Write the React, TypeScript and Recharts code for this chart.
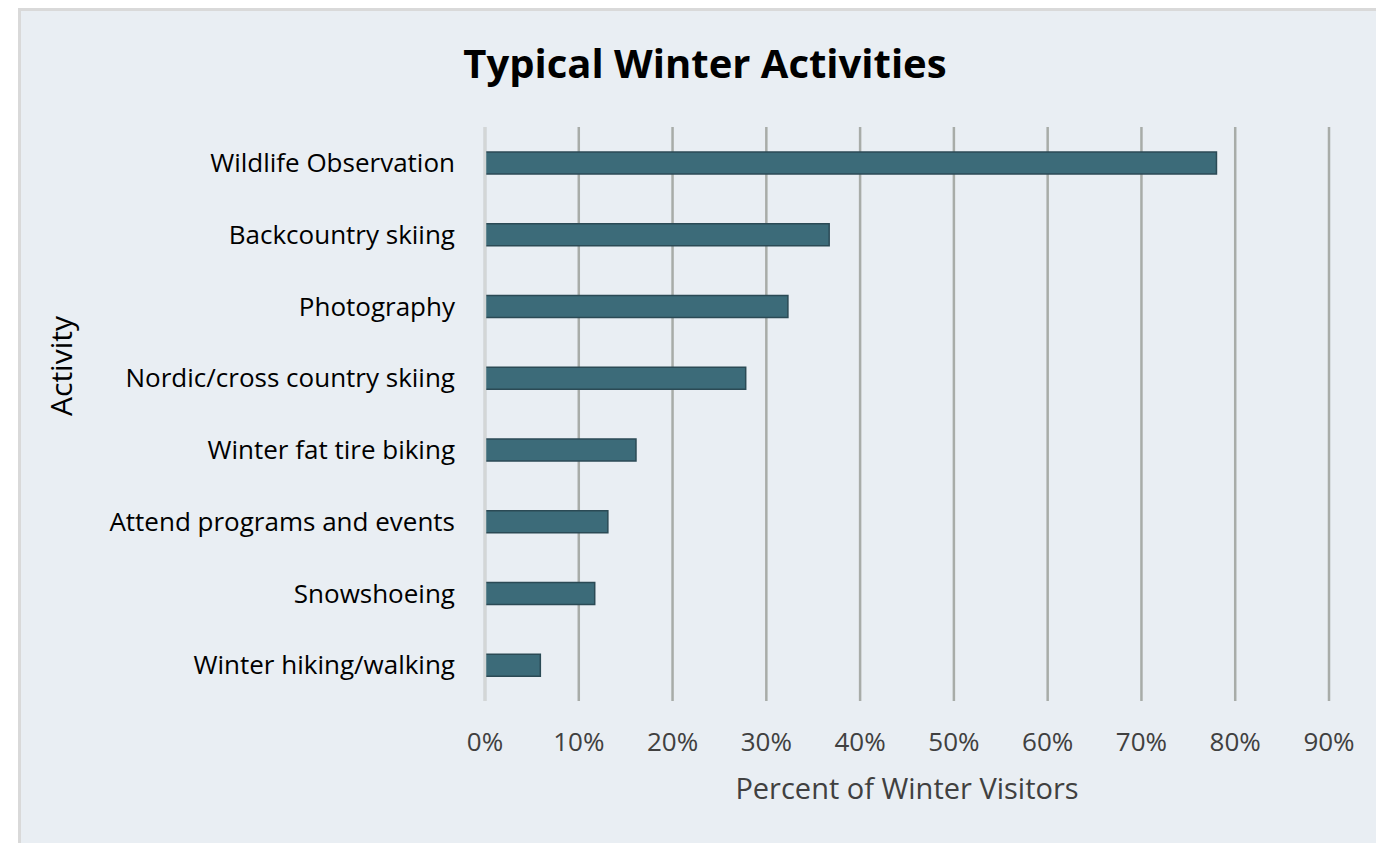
import React from 'react';
import { BarChart, Bar, XAxis, YAxis, CartesianGrid } from 'recharts';

const activities = [
  'Wildlife Observation',
  'Backcountry skiing',
  'Photography',
  'Nordic/cross country skiing',
  'Winter fat tire biking',
  'Attend programs and events',
  'Snowshoeing',
  'Winter hiking/walking',
];
const percentOfVisitors = [0.78, 0.367, 0.323, 0.278, 0.161, 0.131, 0.117, 0.059];
const percentTicks = [0, 0.1, 0.2, 0.3, 0.4, 0.5, 0.6, 0.7, 0.8, 0.9];

const data = activities.map((name, i) => ({ name, value: percentOfVisitors[i] }));

const FONT = '"Open Sans", "Noto Sans", sans-serif';

// y-axis title sits a little above the plot's middle in the original
const ActivityLabel = () => (
  <text x={72} y={366} transform="rotate(-90 72 366)" textAnchor="middle" fill="#000" fontSize={30} fontFamily={FONT}>
    Activity
  </text>
);

export default function App() {
  return (
    <div style={{ position: 'fixed', left: 0, top: 0, width: 1376, height: 843, overflow: 'hidden', background: '#fff', fontFamily: FONT }}>
      <div
        style={{
          position: 'absolute', left: 18, top: 8, width: 1400, height: 900,
          background: '#e9eef3', borderLeft: '3px solid #d9d9d9', borderTop: '3px solid #d9d9d9',
        }}
      />
      <div
        style={{
          position: 'absolute', left: 18, top: 37, width: 1374, textAlign: 'center',
          fontSize: 40, fontWeight: 700, color: '#000', lineHeight: '52px',
        }}
      >
        Typical Winter Activities
      </div>
      <div style={{ position: 'absolute', left: 0, top: 0 }}>
        <BarChart
          width={1376}
          height={843}
          data={data}
          layout="vertical"
          margin={{ top: 127, right: 47, bottom: 82, left: 0 }}
          barCategoryGap={0}
        >
          <CartesianGrid horizontal={false} stroke="#a8aca8" strokeWidth={2.5} />
          <XAxis
            type="number"
            domain={[0, 0.9]}
            ticks={percentTicks}
            tickFormatter={(v: number) => `${Math.round(v * 100)}%`}
            axisLine={false}
            tickLine={false}
            tickSize={0}
            tickMargin={32}
            height={60}
            interval={0}
            tick={{ fill: '#404040', fontSize: 26, fontFamily: FONT }}
            label={{ value: 'Percent of Winter Visitors', position: 'bottom', offset: 17, fill: '#404040', fontSize: 29, fontFamily: FONT }}
          />
          <YAxis
            type="category"
            dataKey="name"
            width={485}
            axisLine={{ stroke: '#d3d6d6', strokeWidth: 2.5 }}
            tickLine={false}
            tickSize={0}
            tickMargin={30}
            interval={0}
            tick={{ fill: '#000', fontSize: 26, fontFamily: FONT }}
            label={{ content: ActivityLabel }}
          />
          <Bar dataKey="value" fill="#3c6b79" stroke="#2b4a55" strokeWidth={1.5} barSize={22} isAnimationActive={false} />
        </BarChart>
      </div>
    </div>
  );
}
